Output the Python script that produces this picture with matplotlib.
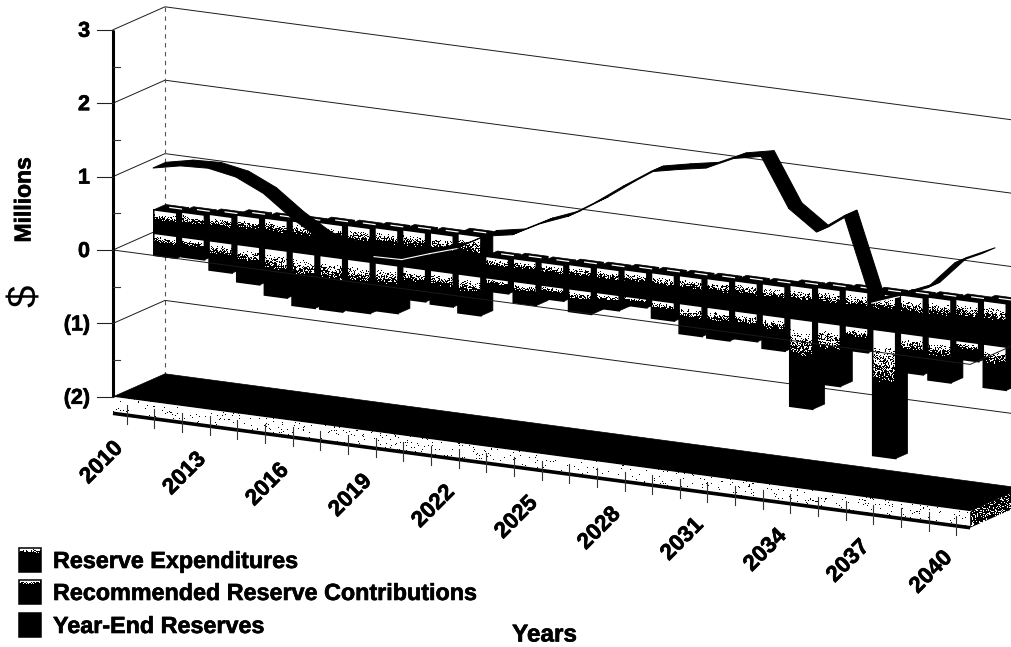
import numpy as np
import matplotlib
matplotlib.use("Agg")
import matplotlib.pyplot as plt
import matplotlib.patheffects as pe
from matplotlib.patches import Polygon

# Reserve study projection, values in millions of dollars
first_year = 2010
contributions = [0.32, 0.34, 0.36, 0.40, 0.41, 0.42, 0.45, 0.46, 0.48, 0.50, 0.51, 0.55,
                 0.29, 0.31, 0.31, 0.33, 0.34, 0.36, 0.37, 0.38, 0.39, 0.41, 0.42, 0.45,
                 0.47, 0.49, 0.50, 0.52, 0.54, 0.56, 0.59]
expenditures = [0.30, 0.27, 0.40, 0.51, 0.64, 0.73, 0.73, 0.70, 0.65, 0.44, 0.46, 0.53,
                0.18, 0.29, 0.18, 0.31, 0.21, 0.12, 0.25, 0.41, 0.42, 0.38, 0.46, 1.20,
                0.84, 0.33, 1.72, 0.53, 0.59, 0.25, 0.59]
year_end = [0.985, 1.065, 1.083, 1.014, 0.84, 0.56, 0.33, 0.25, 0.19, 0.20, 0.33, 0.45,
            0.66, 0.73, 0.93, 1.08, 1.32, 1.59, 1.84, 1.92, 1.99, 2.17, 2.25, 1.59,
            1.32, 1.59, 0.46, 0.60, 0.76, 1.15, 1.33]
value_ticks = [3, 2, 1, 0, -1, -2]
value_labels = ["3", "2", "1", "0", "(1)", "(2)"]
legend_labels = ["Reserve Expenditures", "Recommended Reserve Contributions", "Year-End Reserves"]

N = len(contributions)
BOLD = {"family": "Liberation Sans", "weight": "bold",
        "path_effects": [pe.withStroke(linewidth=0.45, foreground="black")]}

# Oblique projection of (category, value, depth) onto figure pixels
CAT_DX, CAT_DY = 27.65, 3.69
VAL_DY = 73.4
DEPTH_DX, DEPTH_DY = 52.0, -23.0
ORIGIN = (113.0, 250.0)


def proj(c, v, d=0.0):
    return (ORIGIN[0] + CAT_DX * c + DEPTH_DX * d,
            ORIGIN[1] + CAT_DY * c - VAL_DY * v + DEPTH_DY * d)


fig = plt.figure(figsize=(10.12, 6.47), dpi=100, facecolor="white")
ax = fig.add_axes([0, 0, 1, 1])
ax.set_xlim(0, 1012)
ax.set_ylim(647, 0)
ax.set_autoscale_on(False)
ax.axis("off")


def speckle(X, Y):
    """Deterministic grain in [0, 1) used to stipple the shaded faces."""
    return (np.sin(X * 12.9898 + Y * 78.233) * 43758.5453) % 1.0


def stippled(corners, level, z):
    """Fill a polygon with a black/white stipple; level(X, Y) gives the white share."""
    pts = np.array(corners)
    x0, y0 = np.floor(pts.min(axis=0)).astype(int)
    x1, y1 = np.ceil(pts.max(axis=0)).astype(int)
    X, Y = np.meshgrid(np.arange(x0, x1) + 0.5, np.arange(y0, y1) + 0.5)
    white = speckle(X, Y) < level(X, Y)
    im = ax.imshow(white.astype(float), extent=(x0, x1, y1, y0), cmap="gray", vmin=0, vmax=1,
                   interpolation="nearest", aspect="auto", zorder=z)
    im.set_clip_path(Polygon(pts, closed=True, transform=ax.transData))


def shaded_front(tl, tr, height, z, reach=0.3):
    slope = (tr[1] - tl[1]) / (tr[0] - tl[0])

    def level(X, Y):
        t = (Y - (tl[1] + slope * (X - tl[0]))) / height
        return 1.4 - t / reach

    corners = [tl, tr, (tr[0], tr[1] + height), (tl[0], tl[1] + height)]
    stippled(corners, level, z)
    ax.add_patch(Polygon(corners, closed=True, fill=False, ec="black", lw=1.1, zorder=z))


def black(corners, z, lw=0.5):
    ax.add_patch(Polygon(corners, closed=True, fc="black", ec="black", lw=lw, zorder=z))


# Walls: gridlines on the back and left walls
LINE = dict(color="#1a1a1a", lw=0.7)
for v in value_ticks[:-1]:
    a, b, c = proj(0, v), proj(0, v, 1), proj(N, v, 1)
    ax.plot([a[0], b[0], c[0]], [a[1], b[1], c[1]], zorder=1, **LINE)
top, bottom = proj(0, 3, 1), proj(0, -2, 1)
ax.plot([top[0], bottom[0]], [top[1], bottom[1]], color="#555555", lw=0.8,
        ls=(0, (4, 4)), zorder=1)

# Floor slab
f0, f1, f2, f3 = proj(0, -2), proj(0, -2, 1), proj(N, -2, 1), proj(N, -2)
black([f0, f1, f2, f3], 2)
SLAB = 0.225
front_slab = [f0, f3, proj(N, -2 - SLAB), proj(0, -2 - SLAB)]
stippled(front_slab, lambda X, Y: 0.965 + 0 * X, 2.1)
side_end = proj(N, -2 - SLAB, 1)
stippled([f3, f2, side_end, proj(N, -2 - SLAB)], lambda X, Y: 0.25 + 0 * X, 2.1)
p, q = proj(0, -2 - SLAB), proj(N, -2 - SLAB)
ax.plot([p[0], q[0]], [p[1], q[1]], color="black", lw=2.6, solid_capstyle="butt", zorder=2.2)

# Category ticks crossing the bottom edge of the slab
for i in range(N):
    x, y = proj(i + 0.5, -2 - SLAB)
    ax.plot([x, x], [y - 10, y + 9], color="#333333", lw=0.8, zorder=2.3)

# Stacked columns, painted left to right so each one overlaps the last one's side
D0, D1 = 0.74, 0.97
L, R = 0.083, 0.915
z = 3.0
for i in range(N):
    for hi, lo, cap in ((contributions[i], 0.0, True), (0.0, -expenditures[i], False)):
        a, b = i + L, i + R
        black([proj(b, hi, D0), proj(b, hi, D1), proj(b, lo, D1), proj(b, lo, D0)], z)
        if cap:
            black([proj(a, hi, D0), proj(b, hi, D0), proj(b, hi, D1), proj(a, hi, D1)], z)
            s0, s1 = proj(a + 0.3, hi, D0 + 0.15), proj(a + 0.72, hi, D0 + 0.15)
            ax.plot([s0[0], s1[0]], [s0[1], s1[1]], color="white", lw=0.9, zorder=z + 0.01)
        tl, tr = proj(a, hi, D0), proj(b, hi, D0)
        shaded_front(tl, tr, (hi - lo) * VAL_DY, z + 0.02)
        z += 0.05

# Year-end reserves as a flat ribbon in front of the columns
RD0, RD1 = 0.50, 0.75
z_ribbon = z + 1
for i in range(N - 1):
    c0, c1 = i + 0.5, i + 1.5
    black([proj(c0, year_end[i], RD0), proj(c1, year_end[i + 1], RD0),
           proj(c1, year_end[i + 1], RD1), proj(c0, year_end[i], RD1)], z_ribbon, lw=0.7)
# The ribbon's lit underside shows where it crosses the dark columns
for i in (8, 9, 10, 26):
    s0, s1 = proj(i + 0.5, year_end[i], RD0), proj(i + 1.5, year_end[i + 1], RD0)
    ax.plot([s0[0], s1[0]], [s0[1] + 0.7, s1[1] + 0.7], color="white", lw=0.8, zorder=z_ribbon + 0.1)

# Zero plane outline sits in front of everything
z_top = z_ribbon + 1
a, b, c = proj(0, 0), proj(N, 0), proj(N, 0, 1)
ax.plot([a[0], b[0], c[0]], [a[1], b[1], c[1]], zorder=z_top, **LINE)

# Value axis
a, b = proj(0, 3), proj(0, -2)
ax.plot([a[0], b[0]], [a[1], b[1]], color="black", lw=2.2, solid_capstyle="butt", zorder=z_top)
for v, label in zip(value_ticks, value_labels):
    x, y = proj(0, v)
    ax.plot([x - 16, x], [y, y], color="#222222", lw=0.8, zorder=z_top)
    ax.text(90, y + 1.5, label, ha="right", va="center", fontsize=15.5, zorder=z_top, **BOLD)
    if v > -2:
        ym = proj(0, v - 0.5)[1]
        ax.plot([x, x + 7], [ym, ym], color="#333333", lw=0.8, zorder=z_top)

# Year labels every third category
for i in range(0, N, 3):
    ax.text(102 + CAT_DX * i, 463 + 3.65 * i, str(first_year + i), rotation=45, ha="center",
            va="center", rotation_mode="anchor", fontsize=16.2, zorder=z_top, **BOLD)

# Axis titles
ax.text(24, 200, "Millions", rotation=90, ha="center", va="center", fontsize=16.5, **BOLD)
ax.text(26, 296, "$", rotation=90, ha="center", va="center", fontsize=29,
        family="Liberation Sans")
ax.text(544.5, 635, "Years", ha="center", va="center", fontsize=17.5, **BOLD)

# Legend
for label, yc, reach in zip(legend_labels, (560, 592, 625), (0.14, 0.14, 0.01)):
    tl, tr = (19.5, yc - 12), (41.5, yc - 12)
    shaded_front(tl, tr, 24, z_top, reach=reach)
    ax.text(53, yc + 1.5, label, ha="left", va="center", fontsize=16.8, zorder=z_top, **BOLD)

fig.savefig("out.png", dpi=100, facecolor="white")
